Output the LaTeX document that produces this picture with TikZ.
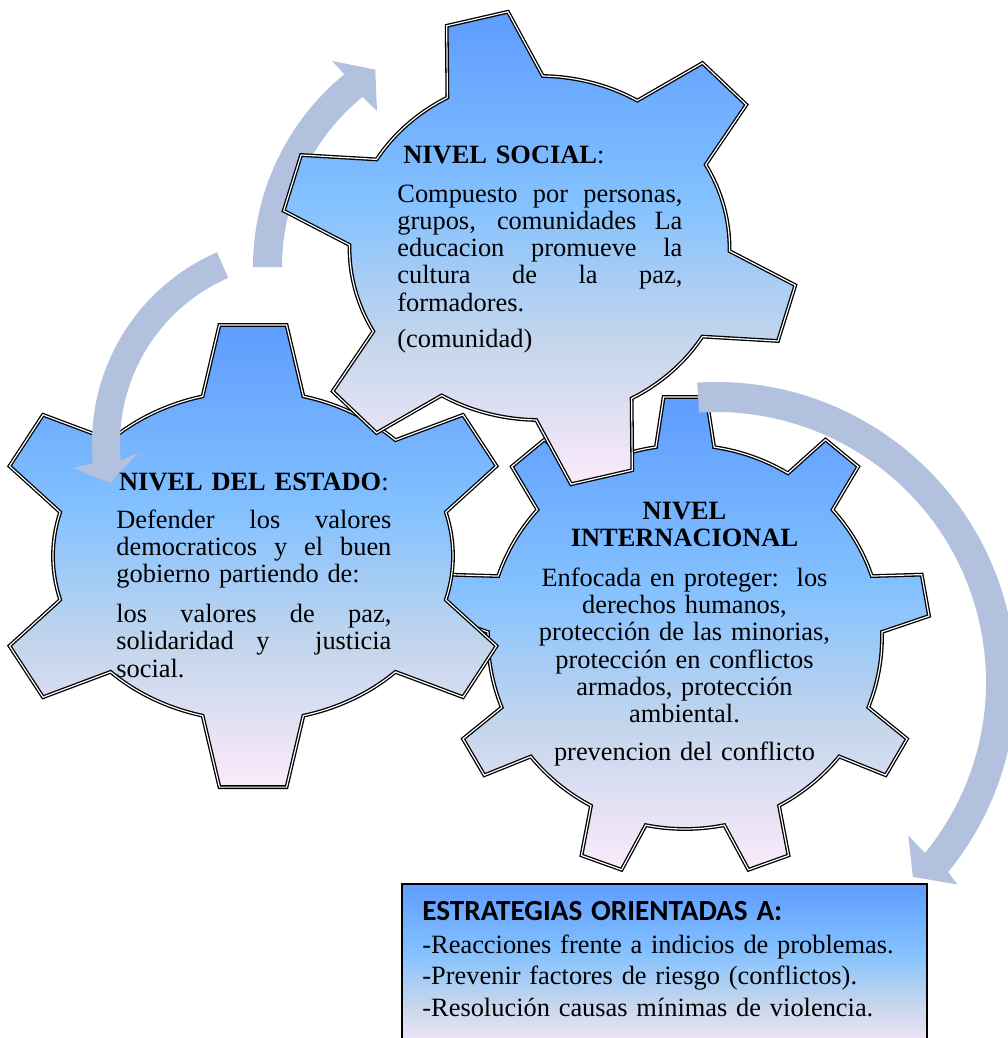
\documentclass[tikz,border=0pt]{standalone}
\usepackage{fontspec}
\setmainfont{Liberation Serif}
\newfontfamily\headfont{Carlito}
\usetikzlibrary{positioning}

\definecolor{gearTop}{RGB}{94,156,255}
\definecolor{gearLight}{RGB}{131,193,255}
\definecolor{gearGrey}{RGB}{196,214,236}
\definecolor{gearPink}{RGB}{252,234,250}
\definecolor{arrowBlue}{RGB}{178,194,222}

\pgfdeclareverticalshading{gearfade}{100bp}{color(0bp)=(gearPink); color(25bp)=(gearPink); color(40bp)=(gearGrey); color(55bp)=(gearLight); color(75bp)=(gearTop); color(100bp)=(gearTop)}

% one justified line of a gear text
\newcommand{\justline}[1]{{\spaceskip=0pt\xspaceskip=0pt\makebox[\linewidth][s]{#1}}}

% outline of a gear: teeth, first tooth, body radii, tip radii, half base, half tip
\newcommand{\gearpath}[8]{%
  ({#3*cos(#2-#7)},{#4*sin(#2-#7)})
  \foreach \k [evaluate=\k as \a using #2+(\k-1)*360/#1] in {1,...,#1}{
    -- ({#5*cos(\a-#8)},{#6*sin(\a-#8)})
    -- ({#5*cos(\a+#8)},{#6*sin(\a+#8)})
    -- ({#3*cos(\a+#7)},{#4*sin(\a+#7)})
    arc[start angle=\a+#7, end angle=\a+360/#1-#7, x radius=#3, y radius=#4]
  } -- cycle}

% round band arrow: start, end, inner r, outer r, outer barb, tip, inner barb
\newcommand{\bandarrow}[7]{%
  (#1:#4) arc[start angle=#1, end angle=#2, radius=#4]
  -- (#5) -- (#6) -- (#7) -- (#2:#3)
  arc[start angle=#2, end angle=#1, radius=#3] -- cycle}

\begin{document}
\begin{tikzpicture}[x=0.5pt, y=0.5pt,
		gear/.style     = {shade, shading=gearfade, draw=black, line width=0.65pt, double=white, double distance=0.6pt},
		band/.style     = {fill=arrowBlue},
		gtext/.style    = {font=\fontsize{13.2}{13.65}\selectfont, inner sep=0pt, align=left},
		stratbox/.style = {shade, shading=gearfade, draw=black, line width=0.8pt, rectangle, inner sep=0pt}]
	
	\useasboundingbox (0,0) rectangle (1007,-1038);
	
	% centres of the gears and of the round arrows
	\coordinate (intl)   at (685,-637);
	\coordinate (estado) at (253,-556);
	\coordinate (social) at (539.5,-248);
	\coordinate (arcSoc) at (502,-267);
	\coordinate (arcEst) at (300,-443);
	\coordinate (arcInt) at (716,-682);
	
	% the three gears, back to front
	\draw[gear, shift={(intl)}] \gearpath{9}{90}{197}{192}{245}{241}{8.5}{5};
	\draw[gear, shift={(estado)}] \gearpath{6}{90}{200}{165}{264}{233}{14.6}{7.3};
	\fill[band, shift={(arcSoc)}] \bandarrow{180}{129.3}{220}{249}{129.5:267}{122.7:234.5}{128.7:200};
	\draw[gear, shift={(social)}] \gearpath{6}{104}{190}{172}{259}{238}{15}{7};
	
	% arrows in front of the gears
	\fill[band, shift={(arcEst)}] \bandarrow{113.5}{185.5}{180}{208}{186.3:228}{191.9:194}{183.5:162};
	\fill[band, shift={(arcInt)}] \bandarrow{93.6}{-39.3}{270}{300}{-40:315}{-44.7:277}{-38.6:246};
	
	% box of strategies
	\node[stratbox, anchor=north west, minimum width=262.5pt, minimum height=85pt] (strat) at (401,-883) {};
	
	% texts of the gears
	\node[gtext, text width=142.5pt, anchor=base west] (socTxt) at (397,-163.3)
		{\hspace*{3pt}\textbf{NIVEL SOCIAL}:\\[5.7pt]
		 \justline{Compuesto por personas,}\\
		 \justline{grupos, comunidades La}\\
		 \justline{educacion promueve la}\\
		 \justline{cultura de la paz,}\\
		 formadores.\\[4.5pt]
		 (comunidad)};
	
	\node[gtext, text width=137.5pt, anchor=base west] (estTxt) at (116,-490)
		{\makebox[\linewidth][c]{\textbf{NIVEL DEL ESTADO}:}\\[5.5pt]
		 \justline{Defender los valores}\\
		 \justline{democraticos y el buen}\\
		 gobierno partiendo de:\\[6.2pt]
		 \justline{los valores de paz,}\\
		 \justline{solidaridad y \ justicia}\\
		 social.};
	
	\node[gtext, text width=150pt, align=center, anchor=base] (intTxt) at (684.5,-519.3)
		{\textbf{NIVEL}\\
		 \textbf{INTERNACIONAL}\\[6.2pt]
		 Enfocada en proteger:\ \ los\\
		 derechos humanos,\\
		 protección de las minorias,\\
		 protección en conflictos\\
		 armados, protección\\
		 ambiental.\\[5.3pt]
		 prevencion del conflicto};
	
	% text of the box
	\node[gtext, font=\fontsize{13.2}{15.75}\selectfont, text width=250pt, anchor=base west] (stratTxt) at ([shift={(21,-37)}]strat.north west)
		{{\headfont\bfseries\fontsize{14.6}{15.75}\selectfont ESTRATEGIAS ORIENTADAS A:}\\[0.75pt]
		 -Reacciones frente a indicios de problemas.\\
		 -Prevenir factores de riesgo (conflictos).\\
		 -Resolución causas mínimas de violencia.};
\end{tikzpicture}
\end{document}
